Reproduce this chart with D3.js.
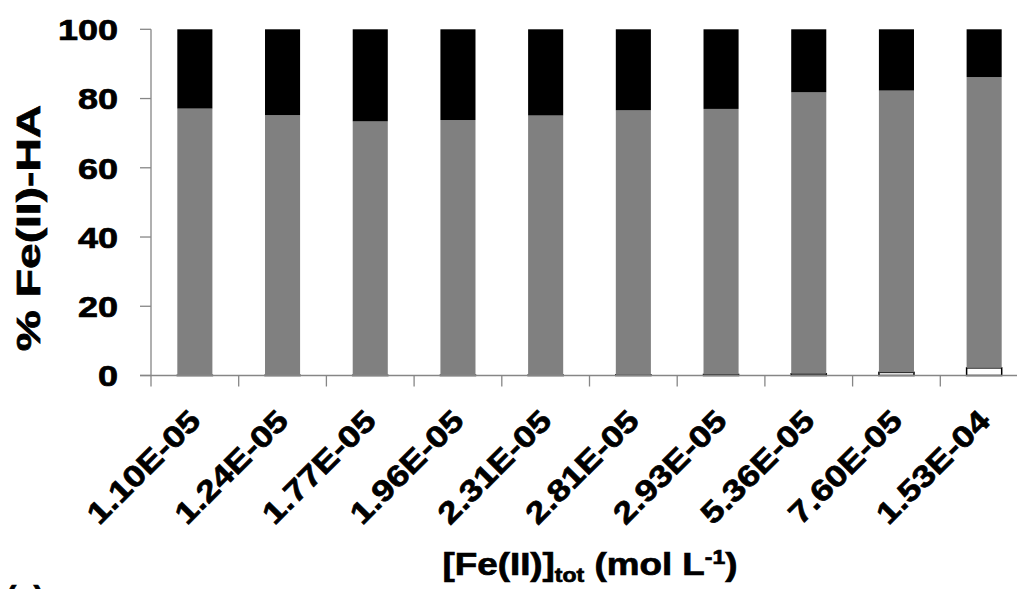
<!DOCTYPE html>
<html>
<head>
<meta charset="utf-8">
<script src="https://cdn.jsdelivr.net/npm/d3@7/dist/d3.min.js"></script>
<style>
  html, body { margin: 0; padding: 0; background: #fff; overflow: hidden; }
  svg { display: block; }
  text { font-family: "Liberation Sans", Arial, sans-serif; font-weight: bold; fill: #000;
         stroke: #000; stroke-width: 0.7px; }
</style>
</head>
<body>
<svg id="chart" width="1017" height="589"></svg>
<script>
// ---- data ----
const categories = ["1.10E-05", "1.24E-05", "1.77E-05", "1.96E-05", "2.31E-05",
                    "2.81E-05", "2.93E-05", "5.36E-05", "7.60E-05", "1.53E-04"];
const seriesWhite = [0.05, 0.05, 0.05, 0.1, 0.1, 0.2, 0.3, 0.5, 0.9, 2.2];
const seriesGray  = [77.05, 75.15, 73.35, 73.7, 75.0, 76.4, 76.7, 81.3, 81.4, 84.0];
const seriesBlack = [22.9, 24.8, 26.6, 26.2, 24.9, 23.4, 23.0, 18.2, 17.7, 13.8];
const yTicks = [0, 20, 40, 60, 80, 100];

const seriesKeys = ["white", "gray", "black"];
const fills = { white: "#ffffff", gray: "#808080", black: "#000000" };

const rows = categories.map((c, i) => ({
  cat: c, white: seriesWhite[i], gray: seriesGray[i], black: seriesBlack[i]
}));

const svg = d3.select("#chart");
const axisColor = "#868686";

const x = d3.scaleBand().domain(categories).range([151, 1028])
  .paddingInner(0.6).paddingOuter(0.3);
const y = d3.scaleLinear().domain([0, 100]).range([375.5, 29.3]);
const step = x.step();
const half = (step - x.bandwidth()) / 2;

const stack = d3.stack().keys(seriesKeys)(rows);

// bars
const g = svg.append("g");
stack.forEach(layer => {
  g.append("g").selectAll("rect").data(layer).join("rect")
    .attr("x", d => x(d.data.cat))
    .attr("width", x.bandwidth())
    .attr("y", d => y(d[1]))
    .attr("height", d => y(d[0]) - y(d[1]))
    .attr("fill", fills[layer.key])
    .attr("stroke", layer.key === "white" ? "#000" : "none")
    .attr("stroke-width", layer.key === "white" ? 1.5 : 0);
});

// y axis
const yAxisX = 151;
svg.append("line").attr("x1", yAxisX).attr("x2", yAxisX)
  .attr("y1", y(100)).attr("y2", y(0) + 11)
  .attr("stroke", axisColor).attr("stroke-width", 1.3);
yTicks.forEach(t => {
  svg.append("line").attr("x1", yAxisX - 11).attr("x2", yAxisX)
    .attr("y1", y(t)).attr("y2", y(t))
    .attr("stroke", axisColor).attr("stroke-width", 1.3);
  svg.append("text")
    .attr("transform", `translate(118,${y(t)}) scale(1.2,1)`)
    .attr("text-anchor", "end").attr("dy", "0.36em")
    .style("font-size", "30px").text(t);
});

// x axis
svg.append("line").attr("x1", yAxisX - 11).attr("x2", 1017)
  .attr("y1", y(0)).attr("y2", y(0))
  .attr("stroke", axisColor).attr("stroke-width", 1.3);
categories.forEach(c => {
  const tx = x(c) + x.bandwidth() + half;
  svg.append("line").attr("x1", tx).attr("x2", tx)
    .attr("y1", y(0)).attr("y2", y(0) + 11)
    .attr("stroke", axisColor).attr("stroke-width", 1.3);
  const cx = x(c) + x.bandwidth() / 2;
  svg.append("text")
    .attr("transform", `translate(${cx},415) rotate(-45) scale(1.2,1)`)
    .attr("text-anchor", "end").attr("dy", "0.36em")
    .style("font-size", "30px").text(c);
});

// y title
svg.append("text")
  .attr("transform", "translate(28,228) rotate(-90) scale(1.4,1)")
  .attr("text-anchor", "middle").attr("dy", "0.36em")
  .style("font-size", "33px").text("% Fe(II)-HA");

// x title
const xt = svg.append("text")
  .attr("transform", "translate(590,575) scale(1.15,1)")
  .attr("text-anchor", "middle")
  .style("font-size", "32px");
xt.append("tspan").text("[Fe(II)]");
xt.append("tspan").attr("dy", 7).style("font-size", "20px").text("tot");
xt.append("tspan").attr("dy", -7).text(" (mol L");
xt.append("tspan").attr("dy", -11).style("font-size", "20px").text("-1");
xt.append("tspan").attr("dy", 11).text(")");

// panel label (cut off at bottom edge, as in the reference)
svg.append("text").attr("x", 6).attr("y", 608)
  .style("font-size", "31px").text("(a)");
</script>
</body>
</html>
